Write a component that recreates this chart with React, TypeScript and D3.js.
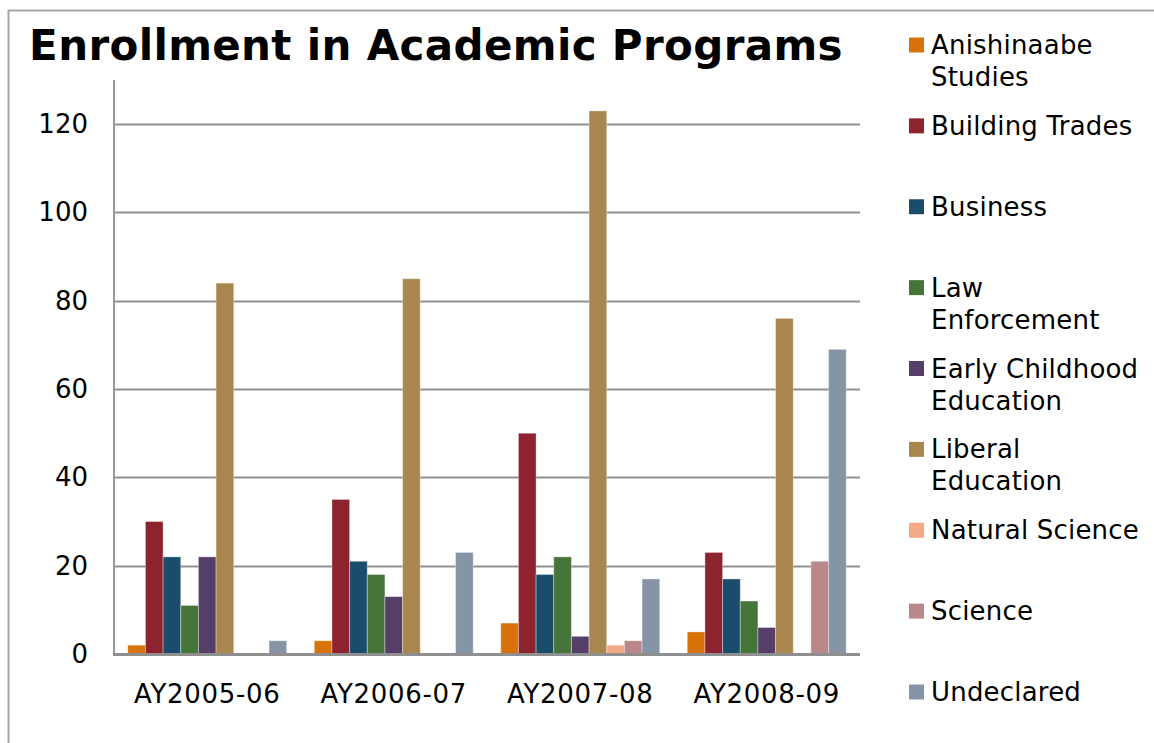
import { useEffect, useRef } from "react";
import * as d3 from "d3";

const years = ["AY2005-06", "AY2006-07", "AY2007-08", "AY2008-09"];
const programs = [
  "Anishinaabe Studies",
  "Building Trades",
  "Business",
  "Law Enforcement",
  "Early Childhood Education",
  "Liberal Education",
  "Natural Science",
  "Science",
  "Undeclared",
];
// legend labels wrap like the original
const legendLines = [
  ["Anishinaabe", "Studies"],
  ["Building Trades"],
  ["Business"],
  ["Law", "Enforcement"],
  ["Early Childhood", "Education"],
  ["Liberal", "Education"],
  ["Natural Science"],
  ["Science"],
  ["Undeclared"],
];
const colors = [
  "#d77308",
  "#8e2330",
  "#1a4d6b",
  "#46753a",
  "#553f68",
  "#aa864f",
  "#f3a886",
  "#ba888a",
  "#8595a6",
];

// one array per year, in program order
const ay0506 = [2, 30, 22, 11, 22, 84, 0, 0, 3];
const ay0607 = [3, 35, 21, 18, 13, 85, 0, 0, 23];
const ay0708 = [7, 50, 18, 22, 4, 123, 2, 3, 17];
const ay0809 = [5, 23, 17, 12, 6, 76, 0, 21, 69];
const values = [ay0506, ay0607, ay0708, ay0809];

const yTicks = [0, 20, 40, 60, 80, 100, 120];

export default function App() {
  const ref = useRef<SVGSVGElement | null>(null);

  useEffect(() => {
    const width = 1154,
      height = 743;
    const plot = { left: 114, right: 860, top: 80, bottom: 654 };
    const font = "'DejaVu Sans', Verdana, sans-serif";

    const svg = d3.select(ref.current);
    svg.selectAll("*").remove();
    svg.attr("width", width).attr("height", height);

    // outer frame (only top and left visible)
    svg
      .append("path")
      .attr("d", `M8.5,${height} V10.5 H${width}`)
      .attr("fill", "none")
      .attr("stroke", "#a6a6a6")
      .attr("stroke-width", 2);

    // title
    svg
      .append("text")
      .attr("x", 436)
      .attr("y", 45)
      .attr("text-anchor", "middle")
      .attr("dominant-baseline", "central")
      .attr("font-family", font)
      .attr("font-weight", "bold")
      .attr("font-size", 42)
      .attr("letter-spacing", 0.35)
      .text("Enrollment in Academic Programs");

    const y = d3.scaleLinear().domain([0, 130]).range([plot.bottom, plot.top]);
    const x0 = d3
      .scaleBand<string>()
      .domain(years)
      .range([plot.left, plot.right])
      .paddingInner(0);
    const x1 = d3
      .scaleBand<string>()
      .domain(programs)
      .range([0, x0.bandwidth()])
      .paddingInner(0)
      .paddingOuter(0.78);

    // gridlines
    svg
      .append("g")
      .selectAll("line")
      .data(yTicks.filter(d => d > 0))
      .enter()
      .append("line")
      .attr("x1", plot.left)
      .attr("x2", plot.right)
      .attr("y1", d => Math.round(y(d)) + 0.5)
      .attr("y2", d => Math.round(y(d)) + 0.5)
      .attr("stroke", "#8f8f8f")
      .attr("stroke-width", 2);

    // y tick labels
    svg
      .append("g")
      .selectAll("text")
      .data(yTicks)
      .enter()
      .append("text")
      .attr("x", 88)
      .attr("y", d => y(d))
      .attr("text-anchor", "end")
      .attr("dominant-baseline", "central")
      .attr("font-family", font)
      .attr("font-size", 26)
      .text(d => d);

    // bars
    const groups = svg
      .append("g")
      .selectAll("g")
      .data(values)
      .enter()
      .append("g")
      .attr("transform", (_, i) => `translate(${x0(years[i])},0)`);

    groups
      .selectAll("rect")
      .data(d => d.map((v, j) => ({ v, j })))
      .enter()
      .filter(d => d.v > 0)
      .append("rect")
      .attr("x", d => x1(programs[d.j])!)
      .attr("y", d => y(d.v))
      .attr("width", x1.bandwidth())
      .attr("height", d => y(0) - y(d.v))
      .attr("fill", d => colors[d.j])
      .attr("stroke", "rgba(255,255,255,0.35)")
      .attr("stroke-width", 1);

    // axes lines
    svg
      .append("line")
      .attr("x1", plot.left)
      .attr("x2", plot.left)
      .attr("y1", plot.top)
      .attr("y2", plot.bottom)
      .attr("stroke", "#999")
      .attr("stroke-width", 2);
    svg
      .append("line")
      .attr("x1", plot.left - 1)
      .attr("x2", plot.right)
      .attr("y1", plot.bottom + 0.5)
      .attr("y2", plot.bottom + 0.5)
      .attr("stroke", "#8f8f8f")
      .attr("stroke-width", 3);

    // x labels
    svg
      .append("g")
      .selectAll("text")
      .data(years)
      .enter()
      .append("text")
      .attr("x", d => x0(d)! + x0.bandwidth() / 2)
      .attr("y", 694)
      .attr("text-anchor", "middle")
      .attr("dominant-baseline", "central")
      .attr("font-family", font)
      .attr("font-size", 26)
      .attr("letter-spacing", 0.7)
      .text(d => d);

    // legend
    const legendY = d3
      .scaleLinear()
      .domain([0, programs.length - 1])
      .range([45, 692]);
    const items = svg
      .append("g")
      .selectAll("g")
      .data(programs)
      .enter()
      .append("g")
      .attr("transform", (_, i) => `translate(909,${legendY(i)})`);
    items
      .append("rect")
      .attr("x", 0)
      .attr("y", -7.5)
      .attr("width", 15)
      .attr("height", 15)
      .attr("fill", (_, i) => colors[i]);
    items
      .append("text")
      .attr("font-family", font)
      .attr("font-size", 26)
      .attr("letter-spacing", 0.2)
      .attr("dominant-baseline", "central")
      .selectAll("tspan")
      .data((_, i) => legendLines[i])
      .enter()
      .append("tspan")
      .attr("x", 22)
      .attr("y", (_, k) => k * 32)
      .text(d => d);
  }, []);

  return (
    <div style={{ position: "absolute", left: 0, top: 0 }}>
      <svg ref={ref} width={1154} height={743} style={{ display: "block" }} />
    </div>
  );
}
